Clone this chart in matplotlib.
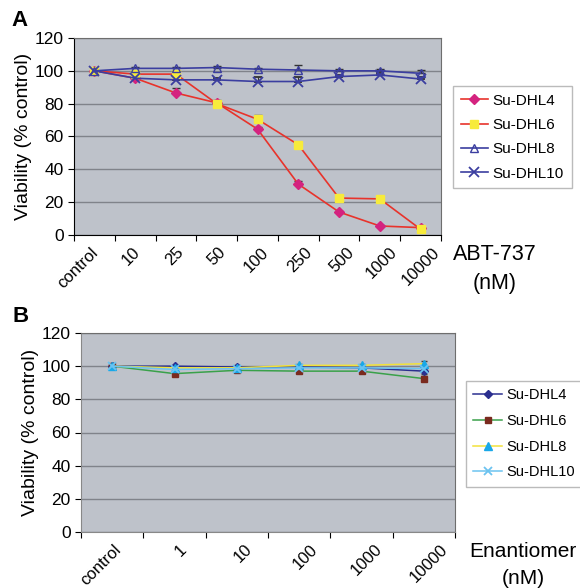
import matplotlib
matplotlib.use("Agg")
import matplotlib.pyplot as plt
import numpy as np

plt.rcParams['font.family'] = ['Liberation Sans', 'DejaVu Sans']

# panel A: ABT-737
doses_a = ["control", "10", "25", "50", "100", "250", "500", "1000", "10000"]
dhl4_a = [100, 95.5, 86.5, 80.5, 64.5, 31, 14, 5.5, 4.5]
dhl6_a = [100, 98, 98, 80, 70.5, 55, 22.5, 22, 3.5]
dhl8_a = [100, 101.5, 101.5, 102, 101, 100.5, 100, 100, 98.5]
dhl10_a = [100, 95.5, 94.5, 94.5, 93.5, 93.5, 96.5, 97.5, 95]
err4_a = [1, 1, 3, 1, 1, 2, 0.5, 0.5, 0.5]
err6_a = [1, 1, 1, 2.5, 2.5, 0.5, 0.5, 0.5, 0.5]
err8_a = [1, 1, 1, 1, 1, 3, 1, 1, 2]
err10_a = [1, 1, 1, 1, 3, 3, 1, 1, 1]

# panel B: enantiomer
doses_b = ["control", "1", "10", "100", "1000", "10000"]
dhl4_b = [100, 100, 99.5, 99.5, 99, 97]
dhl6_b = [100, 95.5, 97.5, 97, 97, 92.5]
dhl8_b = [100, 99, 99, 100.5, 100.5, 101.5]
dhl10_b = [100, 98, 98.5, 99, 99, 98.5]
err_b = [1.5, 1, 1, 1, 1, 1.5]

names = ["Su-DHL4", "Su-DHL6", "Su-DHL8", "Su-DHL10"]

fig = plt.figure(figsize=(5.8, 5.88), dpi=100)
bg = "#bec2ca"


def style_axes(ax, ncat):
    ax.set_facecolor(bg)
    ax.set_xlim(-0.5, ncat - 0.5)
    ax.set_ylim(0, 120)
    ax.set_yticks(range(0, 121, 20))
    ax.yaxis.grid(True, color="#80838a", lw=1)
    ax.set_axisbelow(True)
    ax.set_xticks(np.arange(ncat + 1) - 0.5)
    ax.tick_params(axis="both", labelsize=12.5, length=4, direction="out")
    ax.tick_params(axis="x", labelbottom=False)
    for s in ax.spines.values():
        s.set_color("#6e6e6e")
    ax.spines["left"].set_color("black")
    ax.spines["bottom"].set_color("black")
    ax.set_ylabel("Viability (% control)", fontsize=14, labelpad=2)


def cat_labels(ax, labels, stretch, shift):
    # excel spreads the rotated labels a little wider than the categories
    for i, lab in enumerate(labels):
        ax.text(i * stretch + shift, -9, lab, rotation=45, ha="right",
                va="center", rotation_mode="anchor", fontsize=12,
                clip_on=False)


def add_legend(ax, x0, y0, hl, sp, fs=11):
    h, l = ax.get_legend_handles_labels()
    h = [hh[0] for hh in h]
    fig.legend(h, l, loc="upper left", bbox_to_anchor=(x0, y0),
               fontsize=fs, frameon=True, fancybox=False, edgecolor="#aaaaaa",
               handlelength=hl, borderpad=0.5, labelspacing=sp,
               handletextpad=0.3, borderaxespad=0)


# ---- panel A
ax1 = fig.add_axes([74 / 580, 1 - 235 / 588, 367 / 580, 197 / 588])
style_axes(ax1, len(doses_a))
x = np.arange(len(doses_a))
ax1.errorbar(x, dhl4_a, yerr=[np.zeros(9), err4_a], color="#e8332b", lw=1.2,
             marker="D", ms=5, mfc="#d4237f", mec="#d4237f", ecolor="#333333",
             elinewidth=0.8, capsize=3, label=names[0])
ax1.errorbar(x, dhl6_a, yerr=[np.zeros(9), err6_a], color="#e8332b", lw=1.2,
             marker="s", ms=6, mfc="#f7eb3b", mec="#f7eb3b", ecolor="#333333",
             elinewidth=0.8, capsize=3, label=names[1])
ax1.errorbar(x, dhl8_a, yerr=[np.zeros(9), err8_a], color="#3b3ea0", lw=1.2,
             marker="^", ms=6, mfc="none", mec="#3b3ea0", ecolor="#333333",
             elinewidth=0.8, capsize=3, label=names[2])
ax1.errorbar(x, dhl10_a, yerr=[np.zeros(9), err10_a], color="#3b3ea0", lw=1.2,
             marker="x", ms=7, mew=1.3, ecolor="#333333",
             elinewidth=0.8, capsize=3, label=names[3])
cat_labels(ax1, doses_a, 1.05, 0.02)
add_legend(ax1, 453 / 580, 1 - 86 / 588, 1.8, 0.68)
fig.text(495 / 580, 1 - 269 / 588, "ABT-737\n(nM)", fontsize=15.5,
         ha="center", va="center", linespacing=1.45, multialignment="center")
fig.text(11 / 580, 1 - 21 / 588, "A", fontsize=16, fontweight="bold", va="center")

# ---- panel B
ax2 = fig.add_axes([81 / 580, 1 - 532 / 588, 374 / 580, 199 / 588])
style_axes(ax2, len(doses_b))
ax2.spines["left"].set_color("#888888")
ax2.spines["bottom"].set_color("#888888")
xb = np.arange(len(doses_b))
kw = dict(elinewidth=0.8, capsize=2.5, ecolor="#444444", lw=1.1)
ax2.errorbar(xb, dhl4_b, yerr=err_b, color="#2b2f8f", marker="D", ms=4.5,
             label=names[0], **kw)
ax2.errorbar(xb, dhl6_b, yerr=err_b, color="#3aa14a", marker="s", ms=5,
             mfc="#7a2a1e", mec="#7a2a1e", label=names[1], **kw)
ax2.errorbar(xb, dhl8_b, yerr=err_b, color="#f2e23a", marker="^", ms=6,
             mfc="#19a8e8", mec="#19a8e8", label=names[2], **kw)
ax2.errorbar(xb, dhl10_b, yerr=err_b, color="#6cc3f0", marker="x", ms=6,
             mew=1.3, label=names[3], **kw)
cat_labels(ax2, doses_b, 1.05, 0.1)
add_legend(ax2, 466 / 580, 1 - 381 / 588, 2.0, 0.8, fs=10.5)
fig.text(523 / 580, 1 - 565 / 588, "Enantiomer\n(nM)", fontsize=15,
         ha="center", va="center", linespacing=1.5, multialignment="center")
fig.text(12 / 580, 1 - 317 / 588, "B", fontsize=16, fontweight="bold", va="center")

fig.savefig("out.png", dpi=100)
